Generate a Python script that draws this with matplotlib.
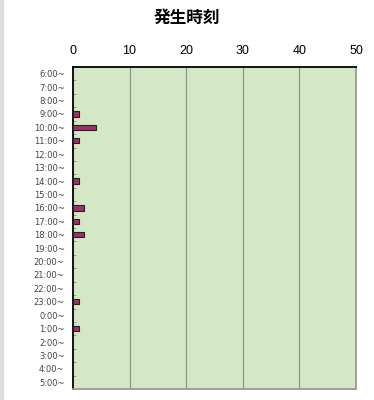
import numpy as np
import matplotlib.pyplot as plt
from matplotlib.ticker import FixedLocator

plt.rcParams['font.family'] = ['Noto Sans CJK JP', 'DejaVu Sans']

# jam kejadian (6:00 s/d 5:00) dan jumlahnya
jam = [f"{h}:00~" for h in list(range(6, 24)) + list(range(0, 6))]
jumlah = [0, 0, 0, 1, 4, 1, 0, 0, 1, 0, 2, 1, 2, 0, 0, 0, 0, 1, 0, 1, 0, 0, 0, 0]
sumbu_x = [0, 10, 20, 30, 40, 50]

fig = plt.figure(figsize=(3.74, 4.0), dpi=100)
fig.patches.append(plt.Rectangle((0, 0), 0.008, 1, transform=fig.transFigure,
                                 color="#dedede", zorder=0))
ax = fig.add_axes([0.195, 0.0275, 0.757, 0.805])
ax.set_facecolor("#d5e8c6")

pos = np.arange(len(jam))
ax.barh(pos, jumlah, height=0.4, color="#993366", edgecolor="#222222", linewidth=0.8, zorder=3)

ax.set_xlim(0, 50)
ax.set_ylim(len(jam) - 0.5, -0.5)
ax.xaxis.tick_top()
ax.set_xticks(sumbu_x)
ax.set_xticklabels([str(v) for v in sumbu_x], fontsize=9, family="Liberation Sans")
ax.tick_params(axis="x", length=0, pad=7)
for v in sumbu_x[1:-1]:
    ax.axvline(v, color="#8a9a80", linewidth=0.9, zorder=1)

ax.set_yticks(pos)
for lbl in ax.set_yticklabels(jam):
    lbl.set_fontfamily("DejaVu Sans")
    lbl.set_fontsize(6)
    lbl.set_color("#444444")
ax.tick_params(axis="y", length=0, pad=6)
ax.yaxis.set_minor_locator(FixedLocator(pos[:-1] + 0.5))
ax.tick_params(axis="y", which="minor", direction="in", length=2.5, color="#888888", width=0.6)

ax.spines["left"].set_color("black")
ax.spines["top"].set_color("black")
ax.spines["left"].set_linewidth(1.3)
ax.spines["top"].set_linewidth(1.3)
ax.spines["right"].set_color("#999999")
ax.spines["bottom"].set_color("#999999")
ax.spines["right"].set_linewidth(1.3)
ax.spines["bottom"].set_linewidth(1.3)

fig.text(0.5, 0.955, "発生時刻", ha="center", va="center", fontsize=12, fontweight="bold")

fig.savefig("out.png", dpi=100)
